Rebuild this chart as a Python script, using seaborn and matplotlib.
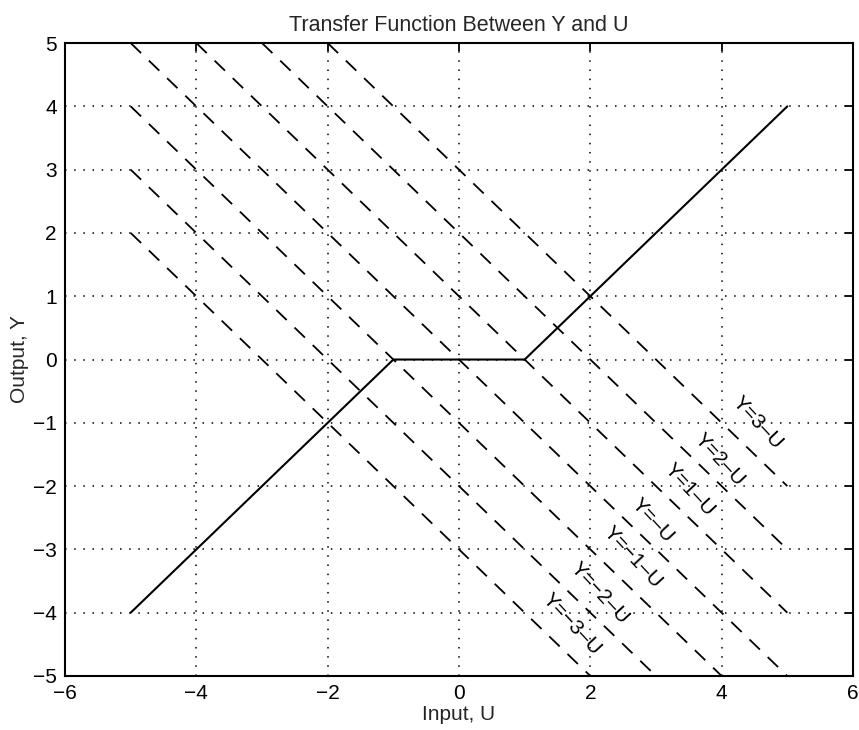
import matplotlib
matplotlib.use("Agg")
import matplotlib.pyplot as plt
import seaborn as sns
import numpy as np
import pandas as pd

# dead-zone transfer function Y(U)
curve_u = [-5, -1, 1, 5]
curve_y = [-4, 0, 0, 4]

# dashed load lines Y = c - U
offsets = [-3, -2, -1, 0, 1, 2, 3]
line_labels = ["Y=\u22123\u2013U", "Y=\u22122\u2013U", "Y=\u22121\u2013U", "Y=\u2013U",
               "Y=1\u2013U", "Y=2\u2013U", "Y=3\u2013U"]
label_u = [1.72, 2.14, 2.65, 2.95, 3.51, 3.97, 4.55]
label_y = [-4.19, -3.69, -3.12, -2.54, -2.06, -1.59, -1.0]

sns.set_style("white")
plt.rcParams["font.family"] = ["Liberation Sans", "DejaVu Sans"]

fig = plt.figure(figsize=(8.59, 7.30), dpi=100)
ax = fig.add_axes([0.0757, 0.074, 0.9173, 0.867])

df_curve = pd.DataFrame({"U": curve_u, "Y": curve_y})
sns.lineplot(data=df_curve, x="U", y="Y", ax=ax, color="black", lw=1.5,
             sort=False, estimator=None)

rows = []
for c in offsets:
    u0, u1 = max(-5, c - 5), min(5, c + 5)
    rows.append({"U": u0, "Y": c - u0, "c": c})
    rows.append({"U": u1, "Y": c - u1, "c": c})
df_lines = pd.DataFrame(rows)
for c, g in df_lines.groupby("c"):
    sns.lineplot(data=g, x="U", y="Y", ax=ax, color="black", lw=1.3,
                 estimator=None, sort=False)
    ax.lines[-1].set_dashes([8, 6])

for txt, lu, ly in zip(line_labels, label_u, label_y):
    ax.text(lu, ly, txt, rotation=-47, ha="center", va="center",
            rotation_mode="anchor", fontsize=15, color="black")

ax.set_xlim(-6, 6)
ax.set_ylim(-5, 5)
ax.set_xticks(np.arange(-6, 7, 2))
ax.set_yticks(np.arange(-5, 6, 1))
ax.set_xticklabels(["\u2212" + str(-v) if v < 0 else str(v) for v in range(-6, 7, 2)])
ax.set_yticklabels(["\u2212" + str(-v) if v < 0 else str(v) for v in range(-5, 6)])
ax.grid(True, color="black", linestyle=(0, (1, 5)), lw=1.1)
ax.tick_params(direction="in", length=6, width=1.3, labelsize=15,
               top=True, right=True, colors="black", pad=6)
for s in ax.spines.values():
    s.set_color("black")
    s.set_linewidth(1.5)

ax.set_title("Transfer Function Between Y and U", fontsize=15.5, pad=9)
ax.set_xlabel("Input, U", fontsize=15, labelpad=1)
ax.set_ylabel("Output, Y", fontsize=15, labelpad=3)

fig.savefig("out.png", dpi=100)
